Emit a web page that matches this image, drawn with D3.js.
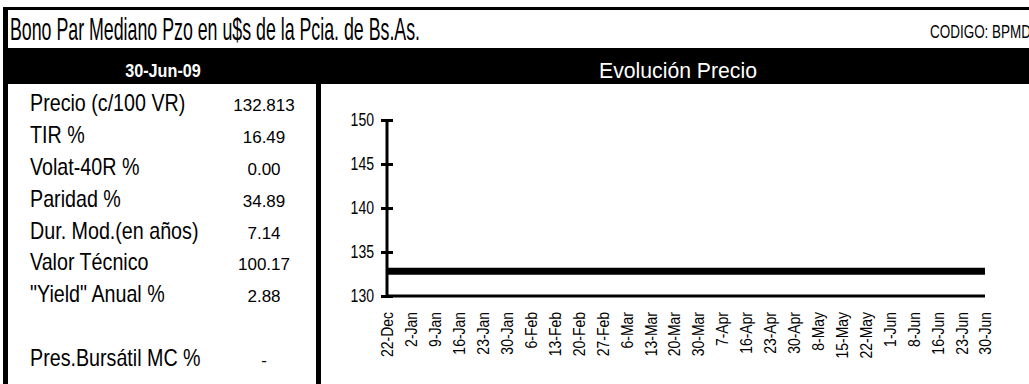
<!DOCTYPE html>
<html>
<head>
<meta charset="utf-8">
<script src="https://cdn.jsdelivr.net/npm/d3@7"></script>
<style>
  body { margin: 0; background: #fff; }
  svg { display: block; }
  text { font-family: "Liberation Sans", Arial, sans-serif; }
</style>
</head>
<body>
<svg width="1029" height="384"></svg>
<script>
// chart data
var fecha = "30-Jun-09";
var titulo = "Bono Par Mediano Pzo en u$s de la Pcia. de Bs.As.";
var codigo = "CODIGO: BPMD";

var statLabels = ["Precio (c/100 VR)", "TIR %", "Volat-40R %", "Paridad %",
    "Dur. Mod.(en años)", "Valor Técnico", "\"Yield\" Anual %", "", "Pres.Bursátil MC %"];
var statValues = ["132.813", "16.49", "0.00", "34.89", "7.14", "100.17", "2.88", "", "-"];

var dates = ["22-Dec", "2-Jan", "9-Jan", "16-Jan", "23-Jan", "30-Jan", "6-Feb", "13-Feb",
    "20-Feb", "27-Feb", "6-Mar", "13-Mar", "20-Mar", "30-Mar", "7-Apr", "16-Apr", "23-Apr",
    "30-Apr", "8-May", "15-May", "22-May", "1-Jun", "8-Jun", "16-Jun", "23-Jun", "30-Jun"];
var prices = [132.813, 132.813, 132.813, 132.813, 132.813, 132.813, 132.813, 132.813,
    132.813, 132.813, 132.813, 132.813, 132.813, 132.813, 132.813, 132.813, 132.813,
    132.813, 132.813, 132.813, 132.813, 132.813, 132.813, 132.813, 132.813, 132.813];
var yTicks = [130, 135, 140, 145, 150];

var svg = d3.select("svg"),
    width = +svg.attr("width"),
    height = +svg.attr("height");

// no Arial Narrow here, so squeeze Liberation Sans the same way
function narrow(sel, k) {
    sel.each(function () {
        var w = this.getComputedTextLength();
        d3.select(this).attr("textLength", w * (k || 0.82)).attr("lengthAdjust", "spacingAndGlyphs");
    });
}

// frame
svg.append("rect").attr("x", 3).attr("y", 7).attr("width", width - 3).attr("height", 3).attr("fill", "#000");
svg.append("rect").attr("x", 3).attr("y", 7).attr("width", 5).attr("height", height - 7).attr("fill", "#000");
svg.append("rect").attr("x", 3).attr("y", 48).attr("width", width - 3).attr("height", 36).attr("fill", "#000");
svg.append("rect").attr("x", 316).attr("y", 84).attr("width", 5).attr("height", height - 84).attr("fill", "#000");

// title row
svg.append("text").attr("x", 10).attr("y", 40)
    .attr("font-size", 32).attr("fill", "#000").text(titulo)
    .attr("textLength", 410).attr("lengthAdjust", "spacingAndGlyphs");
svg.append("text").attr("x", 930).attr("y", 38)
    .attr("font-size", 18).attr("fill", "#000").text(codigo)
    .attr("textLength", 101).attr("lengthAdjust", "spacingAndGlyphs");

// header band
svg.append("text").attr("x", 163).attr("y", 77).attr("text-anchor", "middle")
    .attr("font-size", 18).attr("font-weight", "bold").attr("fill", "#fff").text(fecha).call(narrow, 0.9);
svg.append("text").attr("x", 678).attr("y", 78).attr("text-anchor", "middle")
    .attr("font-size", 22).attr("fill", "#fff").text("Evolución Precio")
    .attr("textLength", 158).attr("lengthAdjust", "spacingAndGlyphs");

// stats table
var rowY = d3.scalePoint().domain(d3.range(statLabels.length)).range([111, 366]);
var rows = svg.append("g").selectAll("g")
    .data(statLabels)
    .enter().append("g")
    .attr("transform", (d, i) => "translate(0," + rowY(i) + ")");
rows.append("text").attr("x", 30).attr("font-size", 24).text(d => d).call(narrow);
rows.append("text").attr("x", 264).attr("text-anchor", "middle")
    .attr("font-size", 17)
    .text((d, i) => statValues[i]);

// price chart
var x = d3.scalePoint().domain(dates).range([387, 985]);
var y = d3.scaleLinear().domain([130, 150]).range([296, 120]);

var g = svg.append("g");

g.append("g")
    .attr("transform", "translate(387,0)")
    .call(d3.axisLeft(y).tickValues(yTicks).tickSize(6).tickPadding(7))
    .call(a => a.select(".domain").remove())
    .call(a => a.selectAll(".tick line").attr("x1", 6).attr("stroke-width", 3))
    .call(a => a.selectAll(".tick text").attr("font-size", 18).attr("fill", "#000")
        .style("font-family", "Liberation Sans, Arial, sans-serif").call(narrow, 0.78));

g.append("line").attr("x1", 387).attr("x2", 387).attr("y1", y(150)).attr("y2", y(130))
    .attr("stroke", "#000").attr("stroke-width", 3);
g.append("line").attr("x1", 386).attr("x2", 985).attr("y1", y(130)).attr("y2", y(130))
    .attr("stroke", "#000").attr("stroke-width", 3);

var xa = g.append("g")
    .attr("transform", "translate(0," + y(130) + ")")
    .call(d3.axisBottom(x).tickSize(0).tickPadding(0));
xa.select(".domain").remove();
xa.selectAll(".tick text")
    .attr("transform", "rotate(-90)")
    .attr("text-anchor", "end")
    .attr("x", -16).attr("y", 0).attr("dy", "0.35em")
    .attr("font-size", 17).attr("fill", "#000")
    .style("font-family", "Liberation Sans, Arial, sans-serif")
    .call(narrow);

var line = d3.line()
    .x((d, i) => x(dates[i]))
    .y(d => y(d));

g.append("path").datum(prices)
    .attr("d", line)
    .attr("fill", "none")
    .attr("stroke", "#000")
    .attr("stroke-width", 7);
</script>
</body>
</html>
